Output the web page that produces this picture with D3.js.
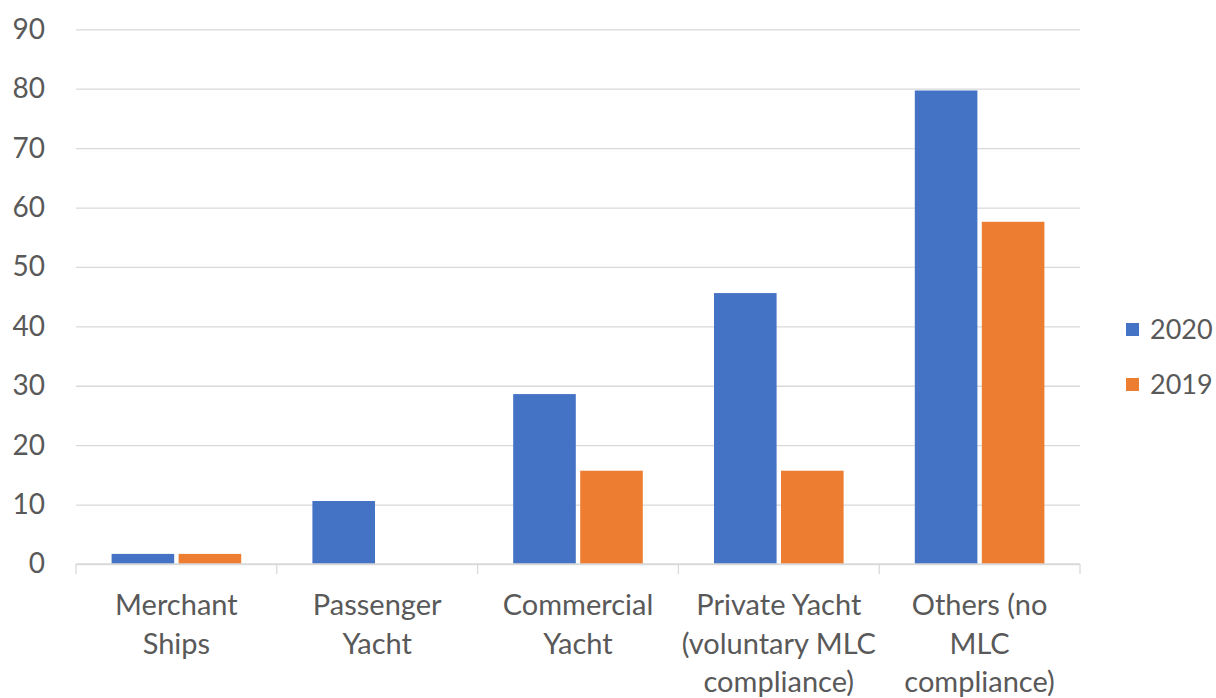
<!DOCTYPE html>
<html>
<head>
<meta charset="utf-8">
<script src="https://cdn.jsdelivr.net/npm/d3@7"></script>
<style>
  html, body { margin: 0; padding: 0; background: #ffffff; }
  svg { display: block; font-family: Lato, "Open Sans", sans-serif; }
</style>
</head>
<body>
<svg id="chart" width="1216" height="698"></svg>
<script>
// Vessel categories and their wrapped axis labels
const categories = ["Merchant Ships", "Passenger Yacht", "Commercial Yacht",
  "Private Yacht (voluntary MLC compliance)", "Others (no MLC compliance)"];
const categoryLines = [
  ["Merchant", "Ships"],
  ["Passenger", "Yacht"],
  ["Commercial", "Yacht"],
  ["Private Yacht", "(voluntary MLC", "compliance)"],
  ["Others (no", "MLC", "compliance)"]
];
const seriesNames = ["2020", "2019"];
const values2020 = [1.7, 10.6, 28.6, 45.6, 79.7];
const values2019 = [1.7, 0, 15.7, 15.7, 57.6];
const yTicks = [0, 10, 20, 30, 40, 50, 60, 70, 80, 90];
const colors = ["#4472C4", "#ED7D31"];

const seriesValues = [values2020, values2019];
const rows = categories.map((c, i) => ({
  category: c,
  lines: categoryLines[i],
  values: seriesNames.map((s, k) => ({ series: s, value: seriesValues[k][i] }))
}));

const svg = d3.select("#chart");
const plot = { left: 76, right: 1080, top: 29.3, bottom: 564 };
const textColor = "#595959";
const gridColor = "#d9d9d9";

const y = d3.scaleLinear().domain([0, 90]).range([plot.bottom, plot.top]);
const x0 = d3.scaleBand().domain(categories).range([plot.left, plot.right]).padding(0);
const groupInset = 35.6;
const x1 = d3.scaleBand().domain(seriesNames)
  .range([groupInset, x0.bandwidth() - groupInset])
  .paddingInner(0.066).paddingOuter(0);

// Horizontal gridlines and value labels
const yAxis = svg.append("g")
  .attr("transform", `translate(${plot.left},0)`)
  .call(d3.axisLeft(y).tickValues(yTicks)
    .tickSizeInner(-(plot.right - plot.left)).tickSizeOuter(0).tickPadding(31));
yAxis.select(".domain").remove();
yAxis.selectAll(".tick line").attr("stroke", gridColor).attr("stroke-width", 1.3);
yAxis.selectAll(".tick text")
  .attr("fill", textColor).attr("font-size", 28).attr("font-family", "Lato, sans-serif");

// Bars
const groups = svg.append("g").selectAll("g")
  .data(rows).join("g")
  .attr("transform", d => `translate(${x0(d.category)},0)`);
groups.selectAll("rect")
  .data(d => d.values).join("rect")
  .attr("x", d => x1(d.series))
  .attr("width", x1.bandwidth())
  .attr("y", d => y(d.value))
  .attr("height", d => y(0) - y(d.value))
  .attr("fill", (d, i) => colors[i]);

// Category axis: baseline, boundary ticks and wrapped labels
const xAxis = svg.append("g").attr("transform", `translate(0,${plot.bottom})`);
xAxis.append("line")
  .attr("x1", plot.left).attr("x2", plot.right)
  .attr("stroke", gridColor).attr("stroke-width", 1.3);
const boundaries = categories.map(c => x0(c)).concat([x0(categories[categories.length - 1]) + x0.bandwidth()]);
xAxis.selectAll("line.tick").data(boundaries).join("line")
  .attr("class", "tick")
  .attr("x1", d => d).attr("x2", d => d)
  .attr("y1", 0).attr("y2", 10)
  .attr("stroke", gridColor).attr("stroke-width", 1.3);
const labels = xAxis.selectAll("text.cat").data(rows).join("text")
  .attr("class", "cat")
  .attr("text-anchor", "middle")
  .attr("fill", textColor)
  .attr("font-size", 29)
  .attr("x", d => x0(d.category) + x0.bandwidth() / 2);
labels.selectAll("tspan").data(d => d.lines).join("tspan")
  .attr("x", function () { return d3.select(this.parentNode).attr("x"); })
  .attr("y", (d, i) => 51 + i * 38.5)
  .text(d => d);

// Legend
const legend = svg.append("g").selectAll("g")
  .data(seriesNames).join("g")
  .attr("transform", (d, i) => `translate(1126,${323 + i * 55})`);
legend.append("rect")
  .attr("width", 13).attr("height", 13)
  .attr("fill", (d, i) => colors[i]);
legend.append("text")
  .attr("x", 24).attr("y", 7).attr("dy", "0.35em")
  .attr("fill", textColor).attr("font-size", 27)
  .text(d => d);
</script>
</body>
</html>
